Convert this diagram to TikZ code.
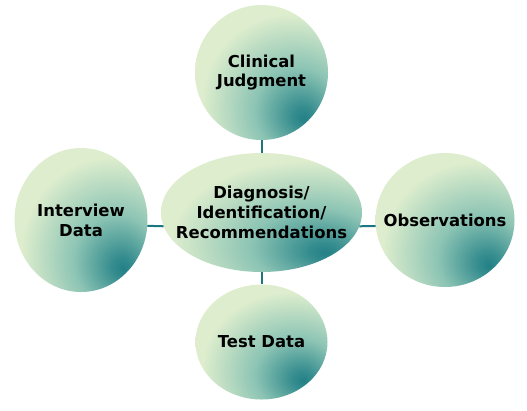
\documentclass[tikz,border=0pt]{standalone}
\usepackage{fontspec}
\setmainfont{DejaVu Sans}
\usetikzlibrary{shapes.geometric}

\definecolor{bubblelight}{RGB}{221,237,205}
\definecolor{bubblemid}{RGB}{140,196,180}
\definecolor{bubbledark}{RGB}{34,128,134}
\definecolor{linkteal}{RGB}{28,118,128}

\pgfdeclareradialshading{bubbleglow}{\pgfpoint{16bp}{-17bp}}{%
  color(0bp)=(bubbledark);
  color(4bp)=(bubbledark!80!bubblemid);
  color(16bp)=(bubblemid);
  color(33bp)=(bubblelight);
  color(100bp)=(bubblelight)}

\begin{document}
\begin{tikzpicture}[x=1bp,y=-1bp,
    bubble/.style={ellipse, shading=bubbleglow, inner sep=-25bp,
      align=center, font=\fontsize{16.5}{20}\selectfont\bfseries},
    link/.style={draw=linkteal, line width=2bp}]

      \useasboundingbox (0,0) rectangle (527,410);

      % The central ellipse.
      \node [bubble, minimum width=201bp, minimum height=119bp] (hub)
      at (261.5,212.5) {Diagnosis/\\Identification/\\Recommendations};

      % The four bubbles round it.
      \node [bubble, minimum width=133bp, minimum height=135bp] (judgment)
      at (261.5,72.5) {Clinical\\Judgment};
      \node [bubble, minimum width=133bp, minimum height=144bp] (interview)
      at (81,220) {Interview\\Data};
      \node [bubble, minimum width=139bp, minimum height=134bp] (observe)
      at (445,220) {Observations};
      \node [bubble, minimum width=132bp, minimum height=115bp] (testdata)
      at (261.5,342) {Test Data};

      % Short links between the hub and the bubbles.
      \draw [link] (hub.north) -- (judgment.south);
      \draw [link] (hub.188) -- (interview.-5);
      \draw [link] (hub.-8) -- (observe.185);
      \draw [link] (hub.south) -- (testdata.north);
    \end{tikzpicture}
\end{document}
